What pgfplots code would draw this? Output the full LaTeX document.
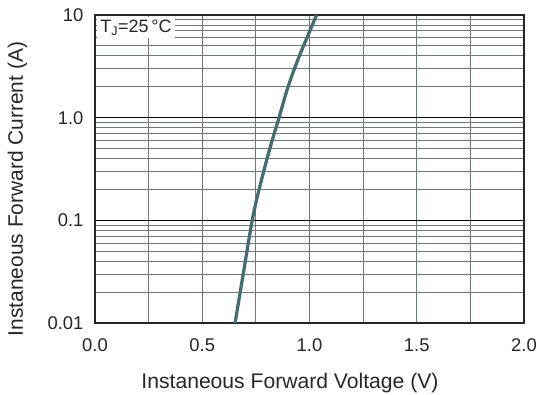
\documentclass[border=0pt]{standalone}
\usepackage{pgfplots}
\pgfplotsset{compat=1.18}
\usepackage{fontspec}
\setmainfont{Liberation Sans}
\definecolor{curve}{HTML}{456E6C}
\definecolor{gridg}{HTML}{6E7875}
\begin{document}
\begin{tikzpicture}
\path[use as bounding box] (-95bp,-72bp) rectangle (442bp,323bp);
\begin{axis}[
  scale only axis, width=429bp, height=308bp,
  at={(0,0)}, anchor=south west,
  ymode=log, xmin=0, xmax=2, ymin=0.01, ymax=10,
  xtick={0,0.5,1,1.5,2}, xticklabels={0.0,0.5,1.0,1.5,2.0},
  minor xtick={0.25,0.75,1.25,1.75},
  ytick={0.01,0.1,1,10}, yticklabels={0.01,0.1,1.0,10},
  log basis y=10,
  minor ytick={0.02,0.03,0.04,0.05,0.06,0.07,0.08,0.09,0.2,0.3,0.4,0.5,0.6,0.7,0.8,0.9,2,3,4,5,6,7,8,9},
  major tick length=0pt, minor tick length=0pt,
  xmajorgrids, xminorgrids, ymajorgrids, yminorgrids,
  x grid style={gridg, line width=1.1pt},
  minor x grid style={gridg, line width=1.1pt},
  y grid style={black, line width=0.9pt},
  minor y grid style={gridg, line width=0.9pt},
  axis line style={black!85, line width=1.5pt},
  tick label style={font=\fontsize{18.5}{20}\selectfont, text=black!85},
  xticklabel style={yshift=-12bp},
  yticklabel style={xshift=-8bp},
  xlabel={Instaneous Forward Voltage (V)},
  ylabel={Instaneous Forward Current (A)},
  every axis x label/.style={at={(axis description cs:0.4545,-0.195)}, anchor=center, font=\fontsize{21.2}{23}\selectfont, text=black!85},
  every axis y label/.style={at={(axis description cs:-0.181,0.435)}, anchor=center, rotate=90, font=\fontsize{21}{23}\selectfont, text=black!85},
]
\addplot[curve, line width=3.3pt, smooth] coordinates {
(0.653,0.01) (0.691,0.03) (0.733,0.1) (0.765,0.2) (0.815,0.5) (0.858,1) (0.900,2) (0.953,4) (1.033,10)
};
\node[anchor=north west, fill=white, inner sep=3pt, font=\fontsize{18}{20}\selectfont, text=black!85] at (axis cs:0.01,9.6) {T\textsubscript{J}=25\,°C};
\end{axis}
\end{tikzpicture}
\end{document}
